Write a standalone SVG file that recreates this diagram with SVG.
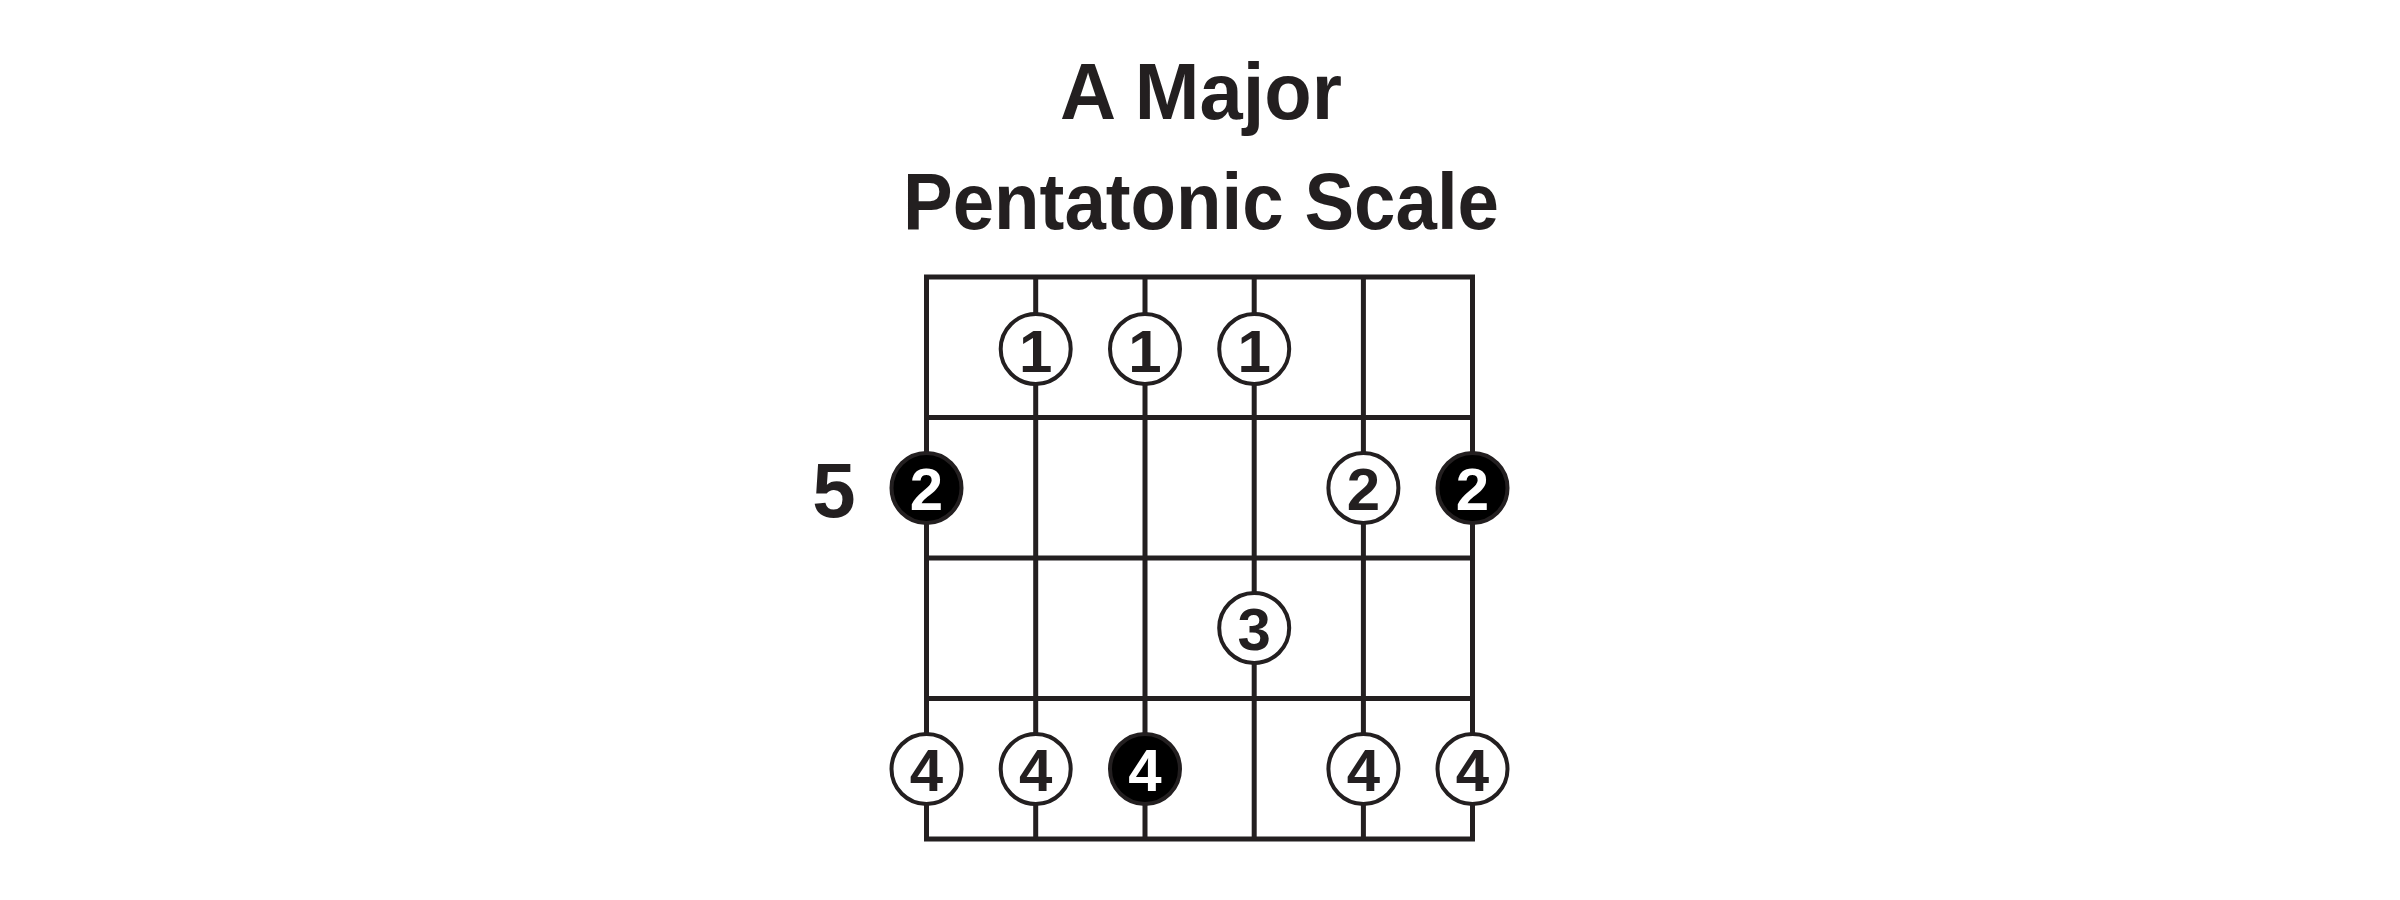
<svg xmlns="http://www.w3.org/2000/svg" width="2400" height="900" viewBox="0 0 2400 900">
<style>
.title{font-family:"Liberation Sans",Arial,sans-serif;font-weight:bold;font-size:80px;fill:#231f20;text-anchor:middle}
.grid line{stroke:#231f20;stroke-width:5}
.frame{fill:none;stroke:#231f20;stroke-width:5}
.dot circle{stroke:#231f20;stroke-width:4}
.open circle{fill:#ffffff}
.root circle{fill:#000000}
.dot text{font-family:"Liberation Sans",Arial,sans-serif;font-weight:bold;font-size:60px;text-anchor:middle}
.open text{fill:#231f20}
.root text{fill:#ffffff}
.fretnum{font-family:"Liberation Sans",Arial,sans-serif;font-weight:bold;font-size:78px;fill:#231f20;text-anchor:middle}
</style>
<rect width="2400" height="900" fill="#ffffff"/>
<g id="title">
<text class="title" x="1201" y="119" textLength="282" lengthAdjust="spacingAndGlyphs">A Major</text>
<text class="title" x="1201" y="229" textLength="596" lengthAdjust="spacingAndGlyphs">Pentatonic Scale</text>
</g>
<g id="fretboard" class="grid">
<rect class="frame" x="926.5" y="277" width="546" height="562"/>
<line x1="1035.7" y1="277" x2="1035.7" y2="839"/>
<line x1="1145" y1="277" x2="1145" y2="839"/>
<line x1="1254.2" y1="277" x2="1254.2" y2="839"/>
<line x1="1363.4" y1="277" x2="1363.4" y2="839"/>
<line x1="926.5" y1="417.5" x2="1472.5" y2="417.5"/>
<line x1="926.5" y1="558" x2="1472.5" y2="558"/>
<line x1="926.5" y1="698.5" x2="1472.5" y2="698.5"/>
</g>
<g id="fret-label">
<text class="fretnum" x="834" y="517">5</text>
</g>
<g id="row1">
<g id="n1a" class="dot open"><circle cx="1035.7" cy="349" r="35"/><text x="1035.7" y="372">1</text></g>
<g id="n1b" class="dot open"><circle cx="1145" cy="349" r="35"/><text x="1145" y="372">1</text></g>
<g id="n1c" class="dot open"><circle cx="1254.2" cy="349" r="35"/><text x="1254.2" y="372">1</text></g>
</g>
<g id="row2">
<g id="n2a" class="dot root"><circle cx="926.5" cy="488" r="35"/><text x="926.5" y="510">2</text></g>
<g id="n2b" class="dot open"><circle cx="1363.4" cy="488" r="35"/><text x="1363.4" y="510">2</text></g>
<g id="n2c" class="dot root"><circle cx="1472.5" cy="488" r="35"/><text x="1472.5" y="510">2</text></g>
</g>
<g id="row3">
<g id="n3a" class="dot open"><circle cx="1254.2" cy="628" r="35"/><text x="1254.2" y="650">3</text></g>
</g>
<g id="row4">
<g id="n4a" class="dot open"><circle cx="926.5" cy="769" r="35"/><text x="926.5" y="791">4</text></g>
<g id="n4b" class="dot open"><circle cx="1035.7" cy="769" r="35"/><text x="1035.7" y="791">4</text></g>
<g id="n4c" class="dot root"><circle cx="1145" cy="769" r="35"/><text x="1145" y="791">4</text></g>
<g id="n4d" class="dot open"><circle cx="1363.4" cy="769" r="35"/><text x="1363.4" y="791">4</text></g>
<g id="n4e" class="dot open"><circle cx="1472.5" cy="769" r="35"/><text x="1472.5" y="791">4</text></g>
</g>
</svg>
